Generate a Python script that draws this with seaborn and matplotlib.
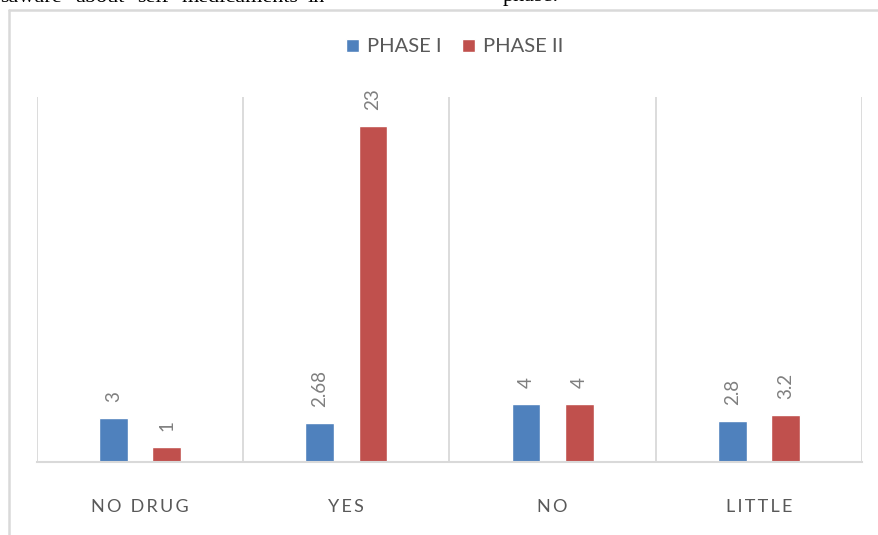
import matplotlib
matplotlib.use("Agg")
import matplotlib.pyplot as plt
from matplotlib import font_manager
import seaborn as sns
import pandas as pd

# Survey answers, two phases
categories = ["NO DRUG", "YES", "NO", "LITTLE"]
phases = ["PHASE I", "PHASE II"]
phase1_values = [3, 2.68, 4, 2.8]
phase2_values = [1, 23, 4, 3.2]

BLUE = "#4F81BD"
RED = "#C0504D"
GRID = "#D9D9D9"
TEXT = "#595959"
LABEL = "#7F7F7F"


def pick_font(*names):
    avail = {f.name for f in font_manager.fontManager.ttflist}
    for n in names:
        if n in avail:
            return n
    return "DejaVu Sans"


body_font = pick_font("Lato", "Open Sans", "DejaVu Sans")
legend_font = pick_font("Liberation Sans Narrow", "Lato", "DejaVu Sans")
serif_font = pick_font("Liberation Serif", "DejaVu Serif")

sns.set_theme(style="white")
plt.rcParams["font.family"] = [body_font, "DejaVu Sans"]

df = pd.DataFrame({
    "category": categories * 2,
    "phase": [phases[0]] * len(categories) + [phases[1]] * len(categories),
    "value": phase1_values + phase2_values,
})

W, H = 879, 535
fig = plt.figure(figsize=(W / 100, H / 100), dpi=100)
ax = fig.add_axes([37 / W, 73 / H, (862 - 37) / W, (462 - 97) / H])

sns.barplot(data=df, x="category", y="value", hue="phase", order=categories,
            hue_order=phases, palette=[BLUE, RED], width=0.516, gap=0.46,
            saturation=1, ax=ax, errorbar=None)

ax.set_xlim(-0.5, len(categories) - 0.5)
ax.set_ylim(0, 25)
ax.set_yticks([])
ax.set_xlabel("")
ax.set_ylabel("")

# Vertical separators between categories
ax.set_xticks([i - 0.5 for i in range(len(categories) + 1)], minor=True)
ax.grid(False)
ax.grid(True, which="minor", axis="x", color=GRID, linewidth=1.3)
ax.tick_params(which="minor", length=0)

for side in ["top", "left", "right"]:
    ax.spines[side].set_visible(False)
ax.spines["bottom"].set_color(GRID)
ax.spines["bottom"].set_linewidth(1.5)

# Letter-spaced category labels
spaced = ["\u2009".join(c) for c in categories]
ax.set_xticks(range(len(categories)))
ax.set_xticklabels(spaced, fontsize=13, color=TEXT)
ax.tick_params(axis="x", which="major", length=0, pad=27)

# Value labels above the bars
for cont, vals in zip(ax.containers, [phase1_values, phase2_values]):
    ax.bar_label(cont, labels=[f"{v:g}" for v in vals], rotation=90,
                 padding=11.5, fontsize=13.5, color=LABEL)

leg = ax.legend(loc="center", bbox_to_anchor=(454.5 / W, 1 - 47 / H),
                bbox_transform=fig.transFigure, ncol=2, frameon=False,
                handlelength=0.65, handleheight=0.65, handletextpad=0.4,
                columnspacing=1.0, prop={"family": legend_font, "size": 14.5})
for t in leg.get_texts():
    t.set_color(TEXT)

# Frame of the chart object
fig.add_artist(plt.Line2D([8.5 / W, 8.5 / W], [0, 1 - 10 / H],
                          transform=fig.transFigure, color=GRID, linewidth=1.8))
fig.add_artist(plt.Line2D([8.5 / W, 1], [1 - 10 / H, 1 - 10 / H],
                          transform=fig.transFigure, color=GRID, linewidth=1.8))

# Surrounding document line above the chart
words = [("saware", 0), ("about", 75), ("self", 137), ("medicaments", 182),
         ("in", 308), ("phase.", 503)]
for w, x in words:
    fig.text(x / W, 1 - 1.5 / H, w, family=serif_font, fontsize=16,
             color="black", ha="left", va="baseline")

fig.savefig("out.png", dpi=100)
